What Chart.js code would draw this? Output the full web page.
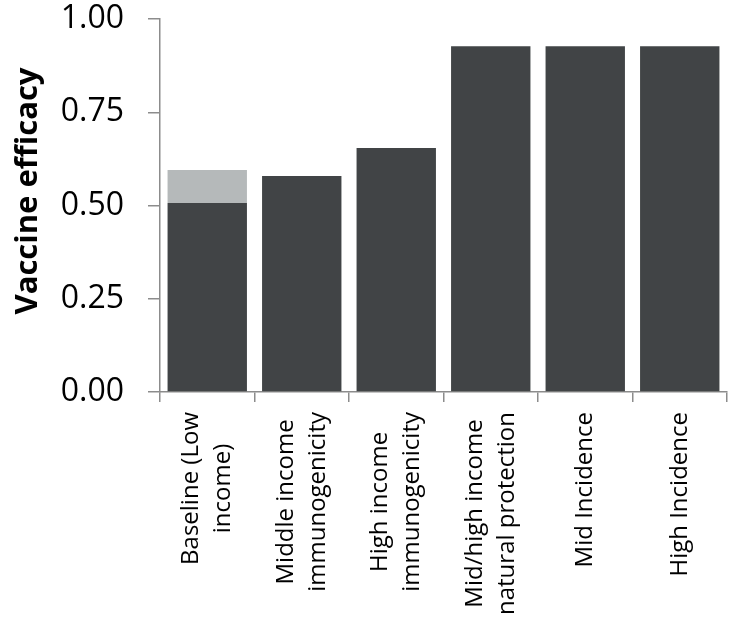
<!DOCTYPE html>
<html>
<head>
<meta charset="utf-8">
<script src="https://cdn.jsdelivr.net/npm/chart.js@4.4.1/dist/chart.umd.min.js"></script>
<style>
  html, body { margin: 0; padding: 0; background: #fff; }
  #wrap { width: 733px; height: 632px; position: relative; }
</style>
</head>
<body>
<div id="wrap"><canvas id="efficacyChart"></canvas></div>
<script>
// ---- data ----
const categories = [
    ['Baseline (Low', 'income)'],
    ['Middle income', 'immunogenicity'],
    ['High income', 'immunogenicity'],
    ['Mid/high income', 'natural protection'],
    ['Mid Incidence'],
    ['High Incidence']
];
const efficacy = [0.507, 0.579, 0.654, 0.927, 0.927, 0.927];
// upper end of the range shown in light grey (baseline only)
const efficacyUpper = [0.595, null, null, null, null, null];
const yTicks = [0, 0.25, 0.5, 0.75, 1];
const yTitle = 'Vaccine efficacy';

const FONT = '"Open Sans", sans-serif';
const AXIS_GREY = '#8c8c8c';

// light grey part stacked on top of the dark bar
const rangeExtra = efficacyUpper.map((u, i) => (u == null ? 0 : u - efficacy[i]));

// draws the rotated category labels with each line centred, like the original,
// plus the y title which sits a little above the middle of the axis
const customText = {
    id: 'customText',
    afterDraw(chart) {
        const { ctx, scales: { x } } = chart;
        const lineHeight = 32;
        ctx.save();
        ctx.font = '24px ' + FONT;
        ctx.fillStyle = '#000';
        categories.forEach((lines, i) => {
            const cx = x.getPixelForValue(i);
            const widest = Math.max(...lines.map(l => ctx.measureText(l).width));
            const cy = x.top + 20 + widest / 2;
            lines.forEach((line, j) => {
                ctx.save();
                ctx.translate(cx + (j - (lines.length - 1) / 2) * lineHeight, cy);
                ctx.rotate(-Math.PI / 2);
                ctx.textAlign = 'center';
                ctx.textBaseline = 'middle';
                ctx.fillText(line, 0, 0);
                ctx.restore();
            });
        });

        // y axis title
        ctx.translate(37, 191);
        ctx.rotate(-Math.PI / 2);
        ctx.font = 'bold 31px ' + FONT;
        ctx.textAlign = 'center';
        ctx.textBaseline = 'alphabetic';
        ctx.fillText(yTitle, 0, 0);
        ctx.restore();
    }
};

new Chart(document.getElementById('efficacyChart'), {
    type: 'bar',
    data: {
        labels: categories.map(c => c.join(' ')),
        datasets: [
            {
                label: 'Vaccine efficacy',
                data: efficacy,
                backgroundColor: '#414446',
                borderWidth: 0,
                barPercentage: 0.84,
                categoryPercentage: 1
            },
            {
                label: 'Range',
                data: rangeExtra,
                backgroundColor: '#b5b9ba',
                borderWidth: 0,
                barPercentage: 0.84,
                categoryPercentage: 1
            }
        ]
    },
    options: {
        responsive: true,
        maintainAspectRatio: false,
        animation: false,
        layout: { padding: { top: 19, right: 6, left: 0, bottom: 0 } },
        plugins: {
            legend: { display: false },
            tooltip: { enabled: false }
        },
        scales: {
            x: {
                stacked: true,
                border: { color: AXIS_GREY, width: 1.5 },
                grid: {
                    drawOnChartArea: false,
                    drawTicks: true,
                    tickLength: 10,
                    color: AXIS_GREY,
                    lineWidth: 1.5
                },
                ticks: { display: false },
                afterFit: s => { s.height = 240; }
            },
            y: {
                stacked: true,
                min: 0,
                max: 1,
                afterBuildTicks: s => { s.ticks = yTicks.map(v => ({ value: v })); },
                border: { color: AXIS_GREY, width: 1.5 },
                grid: {
                    drawOnChartArea: false,
                    drawTicks: true,
                    tickLength: 12,
                    color: AXIS_GREY,
                    lineWidth: 1.5
                },
                ticks: {
                    color: '#000',
                    padding: 24,
                    font: { family: FONT, size: 32 },
                    callback: v => v.toFixed(2)
                },
                afterFit: s => {
                    s.width = 160;
                    s.paddingTop = 0;
                    s.paddingBottom = 0;
                }
            }
        }
    },
    plugins: [customText]
});
</script>
</body>
</html>
